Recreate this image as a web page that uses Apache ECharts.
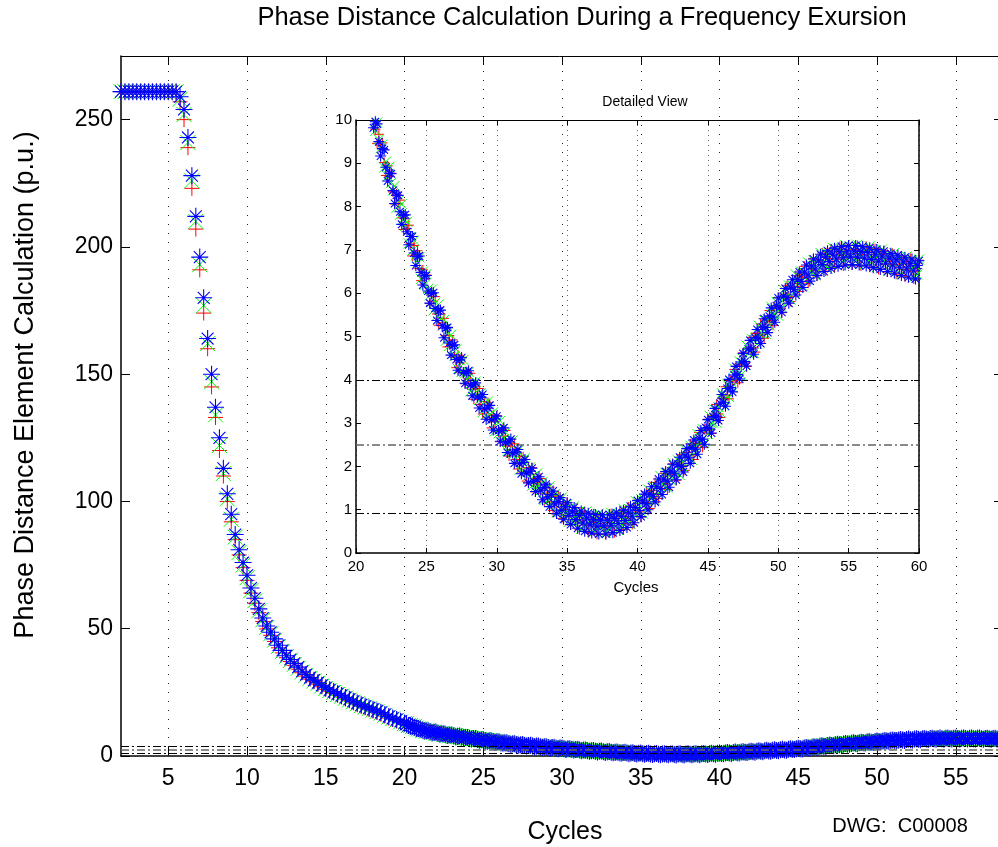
<!DOCTYPE html>
<html>
<head>
<meta charset="utf-8">
<script src="https://cdn.jsdelivr.net/npm/echarts@6.0.0/dist/echarts.min.js"></script>
<style>
html,body{margin:0;padding:0;background:#fff;}
#chart{width:998px;height:847px;}
</style>
</head>
<body>
<div id="chart"></div>
<script>
// ---- sampling of the time axis (cycles) ----
const earlyStart = 2;      // first sample of the early segment
const earlyStep = 0.25;    // early segment: 2 .. 19.75 cycles
const lateStart = 20;      // late segment: 20 .. 60 cycles
const lateStep = 0.125;

// ---- tick values ----
const mainXTicks = [5, 10, 15, 20, 25, 30, 35, 40, 45, 50, 55];
const mainYTicks = [0, 50, 100, 150, 200, 250];
const thresholdValues = [4, 2.5, 0.92];
const thresholdColors = ['#000000', '#666666', '#000000'];
const thresholdWidths = [1, 1.6, 1];

// ---- series values (p.u.) ----
const redEarly = [
261,261,261,261,261,261,261,261,261,261,261,261,261,261,261,
257,250,239,223,207,191,174,160,145,133,120,110,100,92,85,79,74,
69,64,60,56.3,52.8,49.9,47.4,45,42.5,40.5,38.6,37.1,35.6,34.1,32.7,31.4,30.2,29.2,28.2,27.2,
26.2,25.4,24.7,23.9,23.2,22.4,21.7,20.9,20.2,19.5,18.9,18.3,17.7,17.1,16.5,15.7,14.9,14.3,13.7,13.1
];
const greenEarly = [
261,261,261,261,261,261,261,261,261,261,261,261,261,261,261,
258,252,241,226,210,193,177,162,147,134,122,111,101,93,86,80,75,
70,65,61,57,53.5,50.5,48,45.5,43,41,39,37.5,36,34.5,33,31.7,30.5,29.5,28.5,27.5,
26.5,25.7,25,24.2,23.5,22.7,22,21.2,20.5,19.8,19.2,18.6,18,17.4,16.8,16,15.2,14.6,14,13.4
];
const blueEarly = [
261,261,261,261,261,261,261,261,261,261,261,261,261,261,261,
259,254,243,228,212,196,180,164,150,137,125,113,103,95,87,81,76,
71,66,62,57.8,54.2,51.1,48.6,46,43.5,41.5,39.4,37.9,36.4,34.9,33.3,32,30.8,29.8,28.8,27.8,
26.8,26,25.3,24.5,23.8,23,22.3,21.5,20.8,20.1,19.5,18.9,18.3,17.7,17.1,16.3,15.5,14.9,14.3,13.7
];

const redLate = [
13.02,12.42,11.96,12.02,11.62,11.52,10.92,10.46,10.52,10.24,
10.27,9.79,9.46,9.67,9.42,9.47,9.02,8.72,8.94,8.70,
8.77,8.34,8.06,8.29,8.07,8.15,7.74,7.47,7.72,7.49,
7.57,7.14,6.86,7.10,6.89,6.98,6.57,6.29,6.54,6.33,
6.42,6.02,5.76,6.02,5.82,5.92,5.52,5.26,5.52,5.32,
5.42,5.02,4.76,5.02,4.82,4.92,4.52,4.28,4.57,4.39,
4.52,4.14,3.91,4.19,4.02,4.15,3.78,3.55,3.84,3.67,
3.80,3.43,3.21,3.50,3.34,3.48,3.12,2.89,3.19,3.03,
3.17,2.80,2.57,2.86,2.70,2.83,2.47,2.24,2.54,2.38,
2.52,2.16,1.94,2.24,2.08,2.22,1.87,1.66,1.97,1.82,
1.97,1.62,1.41,1.72,1.57,1.72,1.38,1.18,1.50,1.36,
1.52,1.18,0.98,1.30,1.16,1.32,0.99,0.80,1.13,1.00,
1.17,0.84,0.65,0.98,0.86,1.04,0.72,0.54,0.88,0.76,
0.95,0.64,0.47,0.82,0.71,0.90,0.60,0.43,0.79,0.69,
0.89,0.59,0.43,0.79,0.70,0.91,0.62,0.47,0.84,0.75,
0.97,0.68,0.54,0.92,0.84,1.06,0.79,0.66,1.05,0.98,
1.22,0.95,0.83,1.23,1.17,1.41,1.15,1.03,1.44,1.38,
1.63,1.37,1.26,1.66,1.60,1.84,1.59,1.47,1.87,1.82,
2.06,1.80,1.68,2.08,2.02,2.27,2.02,1.91,2.32,2.27,
2.52,2.27,2.16,2.57,2.53,2.78,2.54,2.44,2.86,2.82,
3.09,2.85,2.76,3.18,3.15,3.43,3.21,3.13,3.57,3.55,
3.84,3.63,3.56,3.99,3.97,4.24,4.02,3.93,4.37,4.34,
4.62,4.39,4.31,4.74,4.72,4.98,4.74,4.64,5.07,5.03,
5.29,5.05,4.96,5.38,5.34,5.60,5.37,5.26,5.68,5.64,
5.90,5.65,5.55,5.96,5.92,6.17,5.92,5.81,6.22,6.16,
6.41,6.15,6.04,6.44,6.38,6.62,6.36,6.23,6.63,6.56,
6.80,6.53,6.40,6.78,6.71,6.93,6.65,6.51,6.89,6.80,
7.02,6.73,6.59,6.96,6.87,7.08,6.79,6.63,7.00,6.90,
7.11,6.81,6.65,7.01,6.91,7.10,6.80,6.63,6.99,6.88,
7.08,6.77,6.60,6.95,6.84,7.03,6.72,6.55,6.90,6.79,
6.98,6.66,6.49,6.84,6.73,6.92,6.61,6.44,6.79,6.67,
6.86,6.55,6.38,6.73,6.62,6.81,6.50,6.33,6.68,6.57,
6.76
];

const greenLate = [
12.75,12.68,12.00,11.98,11.48,11.54,11.00,10.65,10.58,10.02,
10.13,9.75,9.94,9.55,9.35,9.43,8.90,9.04,8.70,8.92,
8.55,8.37,8.48,7.97,8.13,7.81,8.06,7.71,7.55,7.65,
7.15,7.30,6.98,7.22,6.87,6.71,6.83,6.33,6.50,6.19,
6.44,6.10,5.95,6.08,5.60,5.78,5.48,5.74,5.40,5.25,
5.38,4.90,5.08,4.78,5.04,4.70,4.55,4.70,4.25,4.45,
4.18,4.46,4.15,4.02,4.18,3.73,3.94,3.67,3.96,3.65,
3.53,3.69,3.25,3.46,3.20,3.50,3.20,3.08,3.25,2.81,
3.03,2.76,3.05,2.74,2.63,2.79,2.35,2.56,2.30,2.60,
2.30,2.19,2.36,1.92,2.14,1.88,2.19,1.90,1.80,1.98,
1.55,1.78,1.53,1.84,1.55,1.45,1.64,1.22,1.46,1.22,
1.54,1.26,1.17,1.36,0.94,1.18,0.95,1.28,1.01,0.93,
1.13,0.72,0.97,0.74,1.08,0.82,0.75,0.96,0.56,0.82,
0.61,0.96,0.71,0.65,0.87,0.48,0.76,0.55,0.91,0.67,
0.62,0.85,0.47,0.75,0.56,0.93,0.70,0.66,0.90,0.53,
0.83,0.64,1.02,0.80,0.77,1.02,0.67,0.98,0.81,1.20,
1.00,0.98,1.25,0.91,1.23,1.07,1.47,1.27,1.27,1.54,
1.21,1.53,1.38,1.78,1.58,1.57,1.85,1.51,1.83,1.68,
2.08,1.88,1.87,2.14,1.80,2.13,1.98,2.39,2.20,2.20,
2.48,2.15,2.48,2.33,2.75,2.56,2.57,2.86,2.54,2.88,
2.75,3.17,3.00,3.01,3.31,3.01,3.37,3.25,3.69,3.53,
3.57,3.89,3.60,3.95,3.83,4.26,4.10,4.12,4.43,4.12,
4.48,4.35,4.79,4.62,4.65,4.94,4.62,4.96,4.83,5.25,
5.07,5.08,5.38,5.06,5.40,5.26,5.69,5.50,5.51,5.80,
5.48,5.81,5.67,6.08,5.90,5.90,6.18,5.85,6.18,6.02,
6.43,6.23,6.23,6.50,6.16,6.48,6.32,6.71,6.51,6.49,
6.76,6.41,6.72,6.54,6.93,6.71,6.68,6.93,6.57,6.86,
6.68,7.05,6.83,6.79,7.03,6.66,6.95,6.75,7.12,6.88,
6.84,7.07,6.69,6.97,6.77,7.12,6.88,6.82,7.05,6.66,
6.94,6.73,7.08,6.83,6.77,6.99,6.60,6.87,6.66,7.01,
6.76,6.69,6.91,6.52,6.79,6.58,6.93,6.68,6.62,6.83,
6.44,6.71,6.50,6.85,6.60,6.54,6.76,6.37,6.64,6.43,
6.78
];

const blueLate = [
13.01,12.45,11.97,11.99,11.81,11.25,10.77,10.79,10.61,10.17,
9.82,9.96,9.91,9.50,9.17,9.34,9.31,8.91,8.59,8.77,
8.76,8.37,8.07,8.26,8.26,7.88,7.59,7.80,7.81,7.42,
7.12,7.31,7.31,6.93,6.64,6.85,6.86,6.48,6.19,6.40,
6.41,6.05,5.77,5.99,6.01,5.65,5.37,5.59,5.61,5.25,
4.97,5.19,5.21,4.85,4.57,4.79,4.81,4.47,4.22,4.46,
4.51,4.17,3.92,4.16,4.21,3.88,3.63,3.88,3.93,3.60,
3.35,3.60,3.66,3.33,3.09,3.35,3.41,3.08,2.84,3.10,
3.16,2.83,2.58,2.83,2.89,2.56,2.32,2.57,2.63,2.31,
2.07,2.33,2.39,2.07,1.83,2.09,2.16,1.85,1.62,1.89,
1.96,1.65,1.42,1.69,1.76,1.45,1.23,1.51,1.59,1.29,
1.07,1.35,1.43,1.13,0.91,1.19,1.28,0.99,0.78,1.07,
1.16,0.87,0.66,0.95,1.05,0.77,0.57,0.87,0.97,0.69,
0.50,0.81,0.92,0.65,0.46,0.77,0.89,0.62,0.44,0.76,
0.88,0.62,0.44,0.76,0.89,0.64,0.47,0.80,0.93,0.68,
0.52,0.85,0.99,0.75,0.59,0.93,1.08,0.85,0.70,1.05,
1.21,0.98,0.84,1.20,1.36,1.14,1.00,1.36,1.53,1.31,
1.18,1.54,1.71,1.49,1.35,1.71,1.88,1.66,1.52,1.89,
2.05,1.83,1.69,2.05,2.21,2.00,1.87,2.24,2.41,2.20,
2.07,2.44,2.61,2.40,2.28,2.65,2.83,2.63,2.51,2.89,
3.08,2.88,2.77,3.15,3.34,3.16,3.06,3.46,3.66,3.48,
3.39,3.80,4.01,3.82,3.72,4.11,4.31,4.12,4.02,4.41,
4.61,4.42,4.32,4.71,4.91,4.71,4.59,4.97,5.16,4.96,
4.84,5.22,5.41,5.21,5.09,5.47,5.66,5.45,5.33,5.71,
5.89,5.68,5.56,5.93,6.11,5.90,5.77,6.14,6.31,6.09,
5.96,6.32,6.49,6.27,6.13,6.49,6.65,6.42,6.28,6.63,
6.79,6.56,6.41,6.75,6.90,6.66,6.50,6.84,6.98,6.73,
6.57,6.90,7.04,6.79,6.62,6.95,7.08,6.82,6.65,6.97,
7.10,6.84,6.66,6.98,7.10,6.83,6.65,6.96,7.08,6.81,
6.63,6.94,7.05,6.78,6.59,6.90,7.01,6.74,6.55,6.86,
6.97,6.69,6.50,6.81,6.92,6.65,6.46,6.77,6.88,6.60,
6.41,6.72,6.83,6.56,6.37,6.68,6.79,6.52,6.33,6.64,
6.75
];

// ---- build chart ----
const FONT = "'Liberation Sans', Arial, sans-serif";
const PLUS = 'path://M0,5L10,5M5,0L5,10';
const CROSS = 'path://M0,0L10,10M0,10L10,0';
const STAR = 'path://M0,5L10,5M5,0L5,10M1.5,1.5L8.5,8.5M1.5,8.5L8.5,1.5';

function toPoints(early, late) {
  return early.map((v, i) => [earlyStart + i * earlyStep, v])
    .concat(late.map((v, i) => [lateStart + i * lateStep, v]));
}
const redPts = toPoints(redEarly, redLate);
const greenPts = toPoints(greenEarly, greenLate);
const bluePts = toPoints(blueEarly, blueLate);

function markerSeries(pts, symbol, size, color, lw, xi, yi, z) {
  return {
    type: 'scatter', data: pts, xAxisIndex: xi, yAxisIndex: yi, z: z,
    symbol: symbol, symbolSize: size, clip: true, large: false,
    itemStyle: { color: 'rgba(0,0,0,0)', borderColor: color, borderWidth: lw, opacity: 1 },
    emphasis: { disabled: true }, silent: true
  };
}

function thresholdLines(xi, yi, z) {
  return {
    type: 'scatter', data: [], xAxisIndex: xi, yAxisIndex: yi, z: z, silent: true,
    markLine: {
      silent: true, symbol: ['none', 'none'], label: { show: false },
      emphasis: { disabled: true }, animation: false,
      data: thresholdValues.map((v, k) => ({
        yAxis: v, lineStyle: { color: thresholdColors[k], width: thresholdWidths[k], type: [8, 3, 2, 3] }
      }))
    }
  };
}

const chart = echarts.init(document.getElementById('chart'), null, { renderer: 'canvas' });

const axisLineMain = { show: true, onZero: false, lineStyle: { color: '#000', width: 1.5 } };
const axisLineThin = { show: true, onZero: false, lineStyle: { color: '#000', width: 1 } };

const option = {
  animation: false,
  backgroundColor: '#ffffff',
  grid: [
    { left: 121, top: 56, width: 882, height: 700, outerBoundsMode: 'none', containLabel: false },
    { left: 356, top: 120, width: 563, height: 433, outerBoundsMode: 'none', containLabel: false }
  ],
  xAxis: [
    { gridIndex: 0, type: 'value', min: 2, max: 58, position: 'bottom',
      axisLine: axisLineMain,
      axisTick: { show: true, inside: true, length: 9, customValues: mainXTicks, lineStyle: { color: '#000', width: 1 } },
      axisLabel: { show: true, customValues: mainXTicks, fontSize: 23, color: '#000', fontFamily: FONT, margin: 11 },
      splitLine: { show: false } },
    { gridIndex: 0, type: 'value', min: 2, max: 58, position: 'top',
      axisLine: axisLineThin,
      axisTick: { show: true, inside: true, length: 9, customValues: mainXTicks, lineStyle: { color: '#000', width: 1 } },
      axisLabel: { show: false }, splitLine: { show: false } },
    { gridIndex: 1, type: 'value', min: 20, max: 60, interval: 5, position: 'bottom', z: 3,
      axisLine: axisLineMain,
      axisTick: { show: true, inside: true, length: 5, lineStyle: { color: '#000', width: 1 } },
      axisLabel: { show: true, fontSize: 15, color: '#000', fontFamily: FONT, margin: 6 },
      splitLine: { show: true, lineStyle: { color: '#666', width: 1, type: [1, 4] } } },
    { gridIndex: 1, type: 'value', min: 20, max: 60, interval: 5, position: 'top', z: 3,
      axisLine: axisLineThin,
      axisTick: { show: true, inside: true, length: 5, lineStyle: { color: '#000', width: 1 } },
      axisLabel: { show: false }, splitLine: { show: false } }
  ],
  yAxis: [
    { gridIndex: 0, type: 'value', min: 0, max: 275, position: 'left',
      axisLine: axisLineMain,
      axisTick: { show: true, inside: true, length: 9, customValues: mainYTicks, lineStyle: { color: '#000', width: 1 } },
      axisLabel: { show: true, customValues: mainYTicks, fontSize: 23, color: '#000', fontFamily: FONT, margin: 8 },
      splitLine: { show: false } },
    { gridIndex: 0, type: 'value', min: 0, max: 275, position: 'right',
      axisLine: axisLineMain,
      axisTick: { show: true, inside: true, length: 9, customValues: mainYTicks, lineStyle: { color: '#000', width: 1 } },
      axisLabel: { show: false }, splitLine: { show: false } },
    { gridIndex: 1, type: 'value', min: 0, max: 10, interval: 1, position: 'left', z: 3,
      axisLine: axisLineMain,
      axisTick: { show: true, inside: true, length: 5, lineStyle: { color: '#000', width: 1 } },
      axisLabel: { show: true, fontSize: 15, color: '#000', fontFamily: FONT, margin: 4 },
      splitLine: { show: false } },
    { gridIndex: 1, type: 'value', min: 0, max: 10, interval: 1, position: 'right', z: 3,
      axisLine: axisLineMain,
      axisTick: { show: true, inside: true, length: 5, lineStyle: { color: '#000', width: 1 } },
      axisLabel: { show: false }, splitLine: { show: false } }
  ],
  series: [
    // main vertical dotted grid lines
    { type: 'scatter', data: [], xAxisIndex: 0, yAxisIndex: 0, z: 1, silent: true,
      markLine: { silent: true, symbol: ['none', 'none'], label: { show: false }, animation: false,
        emphasis: { disabled: true },
        lineStyle: { color: '#222', width: 1, type: [1, 8] },
        data: mainXTicks.map(v => ({ xAxis: v })) } },
    markerSeries(redPts, PLUS, 15, '#ff0000', 1, 0, 0, 2),
    markerSeries(greenPts, CROSS, 15, '#00ff00', 1, 0, 0, 2),
    markerSeries(bluePts, STAR, 17, '#0000ff', 1.1, 0, 0, 2),
    thresholdLines(0, 0, 6),
    // inset
    thresholdLines(2, 2, 4),
    markerSeries(redPts, PLUS, 10, '#ff0000', 1, 2, 2, 5),
    markerSeries(greenPts, CROSS, 10, '#00ff00', 1, 2, 2, 5),
    markerSeries(bluePts, STAR, 11, '#0000ff', 1.1, 2, 2, 5)
  ],
  graphic: { elements: [
    { type: 'rect', z: 2, silent: true, shape: { x: 316, y: 86, width: 630, height: 516 }, style: { fill: '#ffffff' } },
    { type: 'text', z: 10, x: 582, y: 18, style: { text: 'Phase Distance Calculation During a Frequency Exursion', font: '25.5px ' + FONT, fill: '#000', align: 'center', verticalAlign: 'middle' } },
    { type: 'text', z: 10, x: 26, y: 385, rotation: Math.PI / 2, style: { text: 'Phase Distance Element Calculation (p.u.)', font: '27px ' + FONT, fill: '#000', align: 'center', verticalAlign: 'middle' } },
    { type: 'text', z: 10, x: 565, y: 832, style: { text: 'Cycles', font: '25px ' + FONT, fill: '#000', align: 'center', verticalAlign: 'middle' } },
    { type: 'text', z: 10, x: 900, y: 826, style: { text: 'DWG:  C00008', font: '20px ' + FONT, fill: '#000', align: 'center', verticalAlign: 'middle' } },
    { type: 'text', z: 10, x: 645, y: 102, style: { text: 'Detailed View', font: '14px ' + FONT, fill: '#000', align: 'center', verticalAlign: 'middle' } },
    { type: 'text', z: 10, x: 636, y: 588, style: { text: 'Cycles', font: '15px ' + FONT, fill: '#000', align: 'center', verticalAlign: 'middle' } }
  ] }
};
chart.setOption(option);
</script>
</body>
</html>
